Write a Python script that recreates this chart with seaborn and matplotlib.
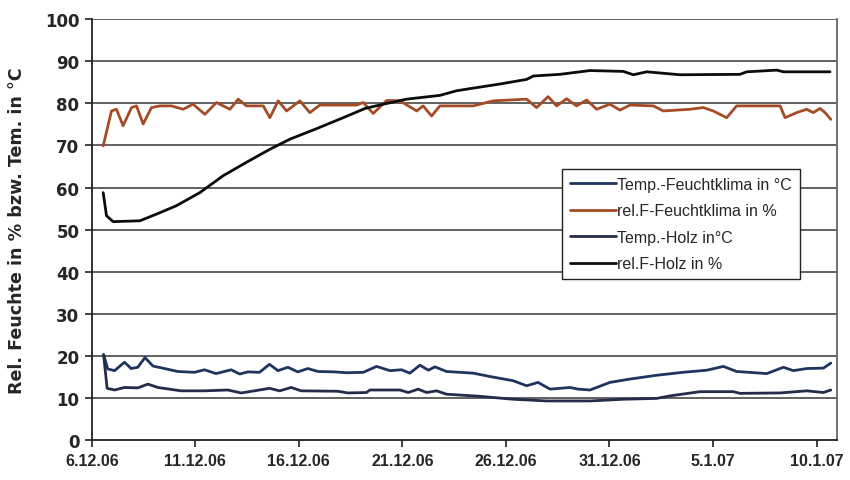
import matplotlib
matplotlib.use("Agg")
import matplotlib.pyplot as plt
import seaborn as sns
import pandas as pd

# Tage seit 6.12.06 und Messwerte der vier Reihen
tf_tag = [0.57, 0.77, 1.10, 1.58, 1.90, 2.22, 2.57, 2.95, 3.51, 4.15, 4.96, 5.44, 6.00, 6.73,
          7.14, 7.54, 8.10, 8.58, 8.99, 9.47, 9.95, 10.43, 10.92, 11.72, 12.30, 13.11, 13.75,
          14.40, 14.96, 15.36, 15.85, 16.25, 16.57, 17.13, 18.42, 19.23, 20.35, 21.00, 21.55,
          22.13, 22.61, 23.09, 23.49, 24.06, 25.02, 25.99, 27.28, 28.55, 29.70, 30.50, 31.14,
          32.60, 33.40, 33.88, 34.53, 35.33, 35.69]
tf_wert = [20.3, 16.9, 16.5, 18.5, 17.0, 17.3, 19.6, 17.6, 17.0, 16.3, 16.1, 16.7, 15.8, 16.7,
           15.7, 16.2, 16.1, 18.0, 16.5, 17.3, 16.2, 17.0, 16.3, 16.2, 16.0, 16.1, 17.5,
           16.5, 16.7, 15.9, 17.8, 16.6, 17.4, 16.3, 15.9, 15.1, 14.1, 12.9, 13.7,
           12.1, 12.3, 12.5, 12.1, 11.9, 13.7, 14.5, 15.4, 16.1, 16.6, 17.5, 16.3,
           15.8, 17.3, 16.5, 17.0, 17.1, 18.3]

rf_tag = [0.55, 0.95, 1.19, 1.51, 1.92, 2.16, 2.48, 2.88, 3.29, 3.85, 4.41, 4.89, 5.46, 6.02,
          6.67, 7.07, 7.47, 8.28, 8.60, 9.00, 9.41, 10.05, 10.53, 11.01, 12.79, 13.11, 13.59,
          14.24, 14.88, 15.69, 16.00, 16.41, 16.81, 18.42, 19.39, 21.00, 21.48, 22.04, 22.45,
          22.93, 23.41, 23.90, 24.38, 25.02, 25.51, 25.99, 27.12, 27.60, 28.89, 29.53, 30.01,
          30.66, 31.14, 33.24, 33.48, 34.04, 34.52, 34.84, 35.17, 35.41, 35.69]
rf_wert = [69.9, 78.2, 78.6, 74.7, 79.0, 79.4, 75.1, 79.0, 79.4, 79.4, 78.6, 79.8, 77.4, 80.2,
           78.6, 81.0, 79.4, 79.4, 76.6, 80.6, 78.2, 80.6, 77.8, 79.6, 79.6, 80.2, 77.6,
           80.7, 80.6, 78.2, 79.4, 77.0, 79.4, 79.4, 80.6, 81.0, 79.0, 81.6, 79.4,
           81.1, 79.4, 80.8, 78.6, 79.8, 78.4, 79.6, 79.4, 78.2, 78.6, 79.0, 78.2,
           76.6, 79.4, 79.4, 76.6, 77.8, 78.6, 77.8, 78.8, 77.8, 76.2]

th_tag = [0.57, 0.74, 1.10, 1.58, 2.22, 2.71, 3.19, 4.31, 5.44, 6.57, 7.21, 7.85, 8.58, 9.07,
          9.63, 10.11, 11.88, 12.37, 13.26, 13.43, 14.88, 15.28, 15.76, 16.17, 16.65, 17.13,
          18.74, 20.35, 21.96, 24.06, 25.67, 27.28, 27.92, 29.37, 30.98, 31.30, 33.24, 34.53,
          35.33, 35.69]
th_wert = [20.3, 12.3, 11.9, 12.5, 12.4, 13.3, 12.5, 11.7, 11.7, 11.9, 11.2, 11.7, 12.3, 11.7,
           12.5, 11.7, 11.6, 11.2, 11.3, 11.9, 11.9, 11.3, 12.1, 11.3, 11.7, 10.9,
           10.4, 9.7, 9.3, 9.3, 9.7, 9.9, 10.5, 11.5, 11.5, 11.1, 11.2, 11.7,
           11.3, 11.9]

rh_tag = [0.55, 0.71, 1.03, 2.32, 3.13, 4.09, 5.22, 6.34, 7.47, 8.60, 9.57, 10.86, 12.14,
          13.20, 14.07, 15.20, 16.81, 17.62, 18.26, 19.71, 21.00, 21.32, 22.61, 24.06, 25.67,
          26.15, 26.80, 28.41, 31.30, 31.63, 33.08, 33.40, 35.65]
rh_wert = [58.8, 53.3, 51.9, 52.1, 53.7, 55.7, 58.8, 62.8, 66.0, 69.1, 71.5, 74.0, 76.6,
           78.8, 79.8, 81.0, 81.9, 83.0, 83.5, 84.6, 85.7, 86.5, 86.9, 87.8, 87.6,
           86.8, 87.5, 86.8, 86.9, 87.5, 87.9, 87.5, 87.5]

reihen = ["Temp.-Feuchtklima in °C", "rel.F-Feuchtklima in %", "Temp.-Holz in°C", "rel.F-Holz in %"]
tick_tage = [0, 5, 10, 15, 20, 25, 30, 35]
tick_text = ["6.12.06", "11.12.06", "16.12.06", "21.12.06", "26.12.06", "31.12.06", "5.1.07", "10.1.07"]

farben = {reihen[0]: "#1f3560", reihen[1]: "#a54c27", reihen[2]: "#232d4a", reihen[3]: "#0c0c0c"}

df = pd.concat([
    pd.DataFrame({"tag": t, "wert": w, "reihe": r})
    for t, w, r in [(tf_tag, tf_wert, reihen[0]), (rf_tag, rf_wert, reihen[1]),
                    (th_tag, th_wert, reihen[2]), (rh_tag, rh_wert, reihen[3])]
], ignore_index=True)

sns.set_style("white")
plt.rcParams["font.family"] = ["Liberation Sans", "DejaVu Sans"]

fig = plt.figure(figsize=(8.5, 4.81), dpi=100)
ax = fig.add_axes([0.108, 0.083, 0.877, 0.875])

for y in range(10, 101, 10):
    ax.axhline(y, color="#555555", lw=1.3, zorder=1)

sns.lineplot(data=df, x="tag", y="wert", hue="reihe", hue_order=reihen, palette=farben,
             estimator=None, sort=False, lw=2.0, ax=ax, legend=False, zorder=3)
for ln in ax.get_lines():
    ln.set_solid_joinstyle("round")
    ln.set_solid_capstyle("round")

ax.set_xlim(0, 36)
ax.set_ylim(0, 100)
ax.set_xticks(tick_tage)
ax.set_xticklabels(tick_text, fontsize=11.5, fontweight="bold")
ax.set_yticks(range(0, 101, 10))
ax.set_yticklabels([str(v) for v in range(0, 101, 10)], fontsize=12, fontweight="bold",
                   family="DejaVu Sans")
ax.tick_params(axis="both", direction="out", length=5, width=1.2, color="#222222", pad=4,
               bottom=True, left=True)
ax.set_xlabel("")
ax.set_ylabel("Rel. Feuchte in % bzw. Tem. in °C", fontsize=12.6, fontweight="bold",
              family="DejaVu Sans")
ax.yaxis.set_label_coords(-0.088, 0.5)

for s in ["left", "bottom"]:
    ax.spines[s].set_color("#222222")
    ax.spines[s].set_linewidth(1.3)
ax.spines["right"].set_color("#666666")
ax.spines["right"].set_linewidth(1.3)
ax.spines["top"].set_visible(False)

handles = [plt.Line2D([], [], color=farben[r], lw=2.0) for r in reihen]
leg = ax.legend(handles, reihen, loc="upper left", bbox_to_anchor=(0.631, 0.645),
                fontsize=11.5, frameon=True, fancybox=False, edgecolor="#222222",
                handlelength=2.9, handletextpad=0.05, labelspacing=0.72, borderpad=0.5,
                borderaxespad=0)
leg.get_frame().set_linewidth(1.0)
leg.get_frame().set_facecolor("white")
leg.get_frame().set_alpha(1)
leg.set_zorder(5)

fig.savefig("out.png", dpi=100, facecolor="white")
